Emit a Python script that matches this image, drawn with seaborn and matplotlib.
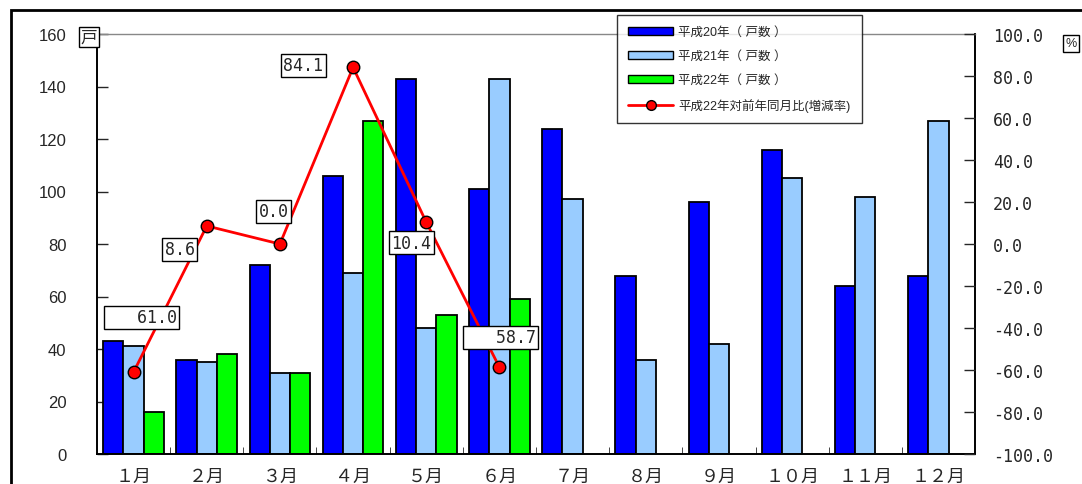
import seaborn as sns
import matplotlib.pyplot as plt
import matplotlib.ticker as mticker
from matplotlib.patches import Patch, Rectangle
from matplotlib.lines import Line2D
import numpy as np
import pandas as pd

months = ["１月", "２月", "３月", "４月", "５月", "６月",
          "７月", "８月", "９月", "１０月", "１１月", "１２月"]
series = ["平成20年（戸数）", "平成21年（戸数）", "平成22年（戸数）"]
legend_labels = ["平成20年（ 戸数 ）", "平成21年（ 戸数 ）", "平成22年（ 戸数 ）",
                 "平成22年対前年同月比(増減率)"]
h20 = [43, 36, 72, 106, 143, 101, 124, 68, 96, 116, 64, 68]
h21 = [41, 35, 31, 69, 48, 143, 97, 36, 42, 105, 98, 127]
h22 = [16, 38, 31, 127, 53, 59, np.nan, np.nan, np.nan, np.nan, np.nan, np.nan]
rate = [-61.0, 8.6, 0.0, 84.1, 10.4, -58.7]
rate_text = ["61.0", "8.6", "0.0", "84.1", "10.4", "58.7"]
colors = ["#0000FF", "#99CCFF", "#00FF00"]

df = pd.DataFrame({
    "month": months * 3,
    "series": np.repeat(series, 12),
    "count": h20 + h21 + h22,
})

sns.set_style("white")
plt.rcParams['font.family'] = ['Liberation Sans', 'Noto Sans CJK JP', 'DejaVu Sans']

fig = plt.figure(figsize=(10.82, 4.85), dpi=100)
ax = fig.add_axes([97 / 1082, 30 / 485, 878 / 1082, 420 / 485])

sns.barplot(data=df, x="month", y="count", hue="series", order=months,
            hue_order=series, palette=colors, saturation=1, width=0.83,
            edgecolor="black", linewidth=1.3, legend=False, ax=ax)

ax.set_ylim(0, 160)
ax.set_yticks(range(0, 161, 20))
ax.set_xlim(-0.5, 11.5)
ax.set_xlabel("")
ax.set_ylabel("")
ax.tick_params(axis="y", direction="in", length=8, width=1, pad=22, labelsize=12,
               left=True)
ax.tick_params(axis="x", which="major", length=0, pad=9, labelsize=13)
ax.set_xticks(np.arange(0.5, 11.5, 1), minor=True)
ax.tick_params(axis="x", which="minor", direction="in", length=5, bottom=True)
for lab in ax.get_xticklabels():
    lab.set_family(['Noto Sans CJK JP', 'DejaVu Sans'])
for s in ["left", "bottom", "right"]:
    ax.spines[s].set_color("black")
    ax.spines[s].set_linewidth(1.4)
ax.spines["top"].set_color("#888888")
ax.spines["top"].set_linewidth(1)

ax2 = ax.twinx()
x_line = np.arange(len(rate))
sns.lineplot(x=x_line, y=rate, ax=ax2, color="red", linewidth=2, marker="o",
             markersize=9, markerfacecolor="red", markeredgecolor="black",
             markeredgewidth=1)
ax2.set_ylim(-100, 100)
ax2.set_yticks(range(-100, 101, 20))
ax2.set_xlim(-0.5, 11.5)
ax2.yaxis.set_major_formatter(mticker.FuncFormatter(lambda v, p: f"{v:.1f}"))
ax2.tick_params(axis="y", direction="in", length=8, width=1, pad=13, labelsize=12,
                right=True)
for lab in ax2.get_yticklabels():
    lab.set_family("DejaVu Sans Mono")
for s in ax2.spines.values():
    s.set_visible(False)

# value labels next to the rate line
label_pos = [(0.115, -34.8, "   "), (0.628, -2.4, ""), (1.912, 15.7, ""),
             (2.322, 85.2, ""), (3.798, 0.5, ""), (5.02, -44.3, "   ")]
for (lx, ly, pre), txt in zip(label_pos, rate_text):
    ax2.text(lx, ly, pre + txt, ha="center", va="center", fontsize=12,
             family="DejaVu Sans Mono",
             bbox=dict(boxstyle="square,pad=0.15", fc="white", ec="black", lw=1))

# unit boxes
fig.text(89 / 1082, 1 - 38 / 485, "戸", ha="center", va="center", fontsize=12,
         family=['Noto Sans CJK JP'],
         bbox=dict(boxstyle="square,pad=0.1", fc="white", ec="black", lw=1))
fig.text(1071 / 1082, 1 - 44 / 485, "%", ha="center", va="center", fontsize=9,
         bbox=dict(boxstyle="square,pad=0.2", fc="white", ec="black", lw=1))

# outer frame
fig.add_artist(Rectangle((11 / 1082, -0.2), 1.2, 1.2 - 11 / 485,
                         transform=fig.transFigure, fill=False, ec="black", lw=2))

handles = [Patch(fc=c, ec="black", lw=1) for c in colors]
handles.append(Line2D([], [], color="red", lw=2, marker="o", markersize=7,
                      markerfacecolor="red", markeredgecolor="black"))
leg = fig.legend(handles, legend_labels, loc="upper left",
                 bbox_to_anchor=(617 / 1082, 1 - 16 / 485), fontsize=9,
                 frameon=True, fancybox=False, edgecolor="black",
                 handlelength=3.6, handleheight=0.6, labelspacing=0.95,
                 borderpad=0.9, handletextpad=0.4, borderaxespad=0)
leg.get_frame().set_linewidth(1)

fig.savefig("out.png", dpi=100)
